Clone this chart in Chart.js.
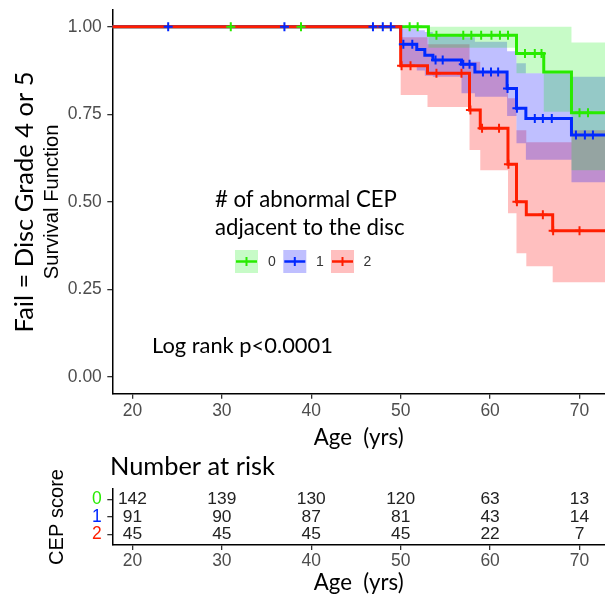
<!DOCTYPE html>
<html><head><meta charset="utf-8">
<script src="https://cdn.jsdelivr.net/npm/chart.js@4.4.1/dist/chart.umd.min.js"></script>
<style>
html,body{margin:0;padding:0;background:#fff;width:605px;height:604px;overflow:hidden}
canvas{position:absolute;left:0}
</style></head><body>
<canvas id="c1" width="605" height="470" style="top:0"></canvas>
<canvas id="c2" width="605" height="154" style="top:450px"></canvas>
<script>
// ---------------- data ----------------
const xTicks = [20, 30, 40, 50, 60, 70];
const yTicks = [0, 0.25, 0.5, 0.75, 1];
const groupLabels = ['0', '1', '2'];

const greenT   = [17.75, 53.1, 62.95, 66.0, 69.1, 72.85];
const greenS   = [1, 0.976, 0.924, 0.871, 0.754, 0.754];
const greenHi  = [1, 1, 1, 1, 0.955, 0.955];
const greenLo  = [1, 0.94, 0.867, 0.757, 0.59, 0.59];
const greenCens = [31.0, 38.85, 51.0, 51.9, 54.0, 57.0, 57.9, 59.0, 60.15, 61.1, 62.0, 63.9, 65.0, 65.75, 70.0, 70.95];

const blueT   = [17.75, 50.0, 51.8, 52.7, 53.6, 56.8, 58.3, 61.9, 62.95, 64.0, 69.1, 72.85];
const blueS   = [1, 0.95, 0.935, 0.919, 0.905, 0.893, 0.871, 0.824, 0.767, 0.738, 0.691, 0.691];
const blueHi  = [1, 0.995, 0.99, 0.985, 0.975, 0.97, 0.957, 0.93, 0.896, 0.867, 0.857, 0.857];
const blueLo  = [1, 0.89, 0.875, 0.86, 0.857, 0.81, 0.80, 0.745, 0.667, 0.62, 0.556, 0.556];
const blueCens = [24.0, 37.0, 46.9, 48.0, 48.9, 50.3, 51.3, 53.9, 54.7, 57.0, 57.7, 59.2, 60.1, 60.9, 61.95, 63.0, 65.0, 65.9, 66.9, 69.6, 70.6, 71.5];

const redT   = [17.75, 50.0, 53.0, 57.7, 58.9, 62.0, 62.95, 64.05, 67.0, 69.1, 72.85];
const redS   = [1, 0.889, 0.867, 0.762, 0.710, 0.607, 0.50, 0.463, 0.417, 0.417, 0.417];
const redHi  = [1, 0.97, 0.95, 0.90, 0.867, 0.796, 0.704, 0.67, 0.67, 0.704, 0.704];
const redLo  = [1, 0.805, 0.771, 0.648, 0.59, 0.467, 0.353, 0.316, 0.27, 0.27, 0.27];
const redCens = [50.1, 51.1, 54.0, 56.8, 57.8, 59.1, 61.0, 62.05, 63.0, 65.9, 67.05, 70.0];

const riskTimes = [20, 30, 40, 50, 60, 70];
const risk0 = [142, 139, 130, 120, 63, 13];
const risk1 = [91, 90, 87, 81, 43, 14];
const risk2 = [45, 45, 45, 45, 22, 7];

// ---------------- styling ----------------
const X_MIN = 17.75, X_MAX = 72.85, Y_MIN = -0.0486, Y_MAX = 1.048;
const LS = '"Liberation Sans", Arial, sans-serif';
const LATO = 'Lato, sans-serif';
const mctx = document.createElement('canvas').getContext('2d');
function fit(text, family, target, weight) {
  mctx.font = (weight || 'normal') + ' 100px ' + family;
  return 100 * target / mctx.measureText(text).width;
}
const tickSize   = fit('1.00', LS, 34);
const survSize   = fit('Survival Function', LS, 155);
const failSize   = fit('Fail = Disc Grade 4 or 5', LATO, 261);
const ageSize    = fit('Age  (yrs)', LATO, 90);
const logSize    = fit('Log rank p<0.0001', LATO, 181);
const legTSize   = fit('# of abnormal CEP', LATO, 182);
const nrSize     = fit('Number at risk', LATO, 165);
const riskSize   = fit('142', LS, 29);
const cepSize    = fit('CEP score', LS, 96);

const COL = {
  g: 'rgb(40,235,0)', b: 'rgb(0,40,255)', r: 'rgb(255,30,0)',
  gf: 'rgba(0,235,0,0.22)', bf: 'rgba(0,0,255,0.25)', rf: 'rgba(255,0,0,0.25)'
};

function pts(T, S) { return T.map((t, i) => ({x: t, y: S[i]})); }
function survAt(T, S, t) { let v = S[0]; for (let i = 0; i < T.length; i++) if (T[i] <= t) v = S[i]; return v; }
function cens(C, T, S) { return C.map(t => ({x: t, y: survAt(T, S, t)})); }

function band(hi, lo, T, col) {
  return [
    {data: pts(T, hi), stepped: 'before', borderWidth: 0, pointRadius: 0, fill: '+1', backgroundColor: col, order: 20},
    {data: pts(T, lo), stepped: 'before', borderWidth: 0, pointRadius: 0, fill: false, order: 20}
  ];
}
function curve(T, S, col, ord) {
  return {data: pts(T, S), stepped: 'before', borderColor: col, borderWidth: 3, pointRadius: 0, fill: false, order: ord};
}
function marks(C, T, S, col, ord) {
  return {data: cens(C, T, S), showLine: false, pointStyle: 'cross', pointRadius: 4.5, pointBorderWidth: 2,
          pointBorderColor: col, pointBackgroundColor: col, borderColor: col, fill: false, order: ord};
}

const datasets = [
  ...band(greenHi, greenLo, greenT, COL.gf),
  ...band(blueHi, blueLo, blueT, COL.bf),
  ...band(redHi, redLo, redT, COL.rf),
  curve(greenT, greenS, COL.g, 9),
  curve(blueT, blueS, COL.b, 8),
  curve(redT, redS, COL.r, 7),
  marks(greenCens, greenT, greenS, COL.g, 3),
  marks(blueCens, blueT, blueS, COL.b, 2),
  marks(redCens, redT, redS, COL.r, 1)
];

const annot = {
  id: 'annot',
  afterDraw(chart) {
    const ctx = chart.ctx;
    ctx.save();
    ctx.fillStyle = '#000';
    ctx.font = failSize + 'px ' + LATO;
    ctx.textAlign = 'center'; ctx.textBaseline = 'middle';
    ctx.translate(25, 202); ctx.rotate(-Math.PI / 2);
    ctx.fillText('Fail = Disc Grade 4 or 5', 0, 0);
    ctx.restore();
    ctx.save();
    ctx.fillStyle = '#000';
    ctx.font = logSize + 'px ' + LATO;
    ctx.textAlign = 'left'; ctx.textBaseline = 'middle';
    ctx.fillText('Log rank p<0.0001', 152, 346);
    ctx.font = legTSize + 'px ' + LATO;
    ctx.fillText('# of abnormal CEP', 215, 200);
    ctx.fillText('adjacent to the disc', 215, 228);
    const keys = [[235, COL.gf, COL.g, 268], [283.3, COL.bf, COL.b, 316], [331, COL.rf, COL.r, 363.5]];
    ctx.font = '14px ' + LS;
    keys.forEach((k, i) => {
      const [x0, fc, lc, tx] = k;
      ctx.fillStyle = '#fff'; ctx.fillRect(x0, 250, 23, 23);
      ctx.fillStyle = fc; ctx.fillRect(x0, 250, 23, 23);
      ctx.strokeStyle = lc; ctx.lineWidth = 2.5;
      ctx.beginPath(); ctx.moveTo(x0 + 1, 261.5); ctx.lineTo(x0 + 22, 261.5); ctx.stroke();
      ctx.lineWidth = 2;
      ctx.beginPath(); ctx.moveTo(x0 + 11.5, 257); ctx.lineTo(x0 + 11.5, 266); ctx.stroke();
      ctx.fillStyle = '#333'; ctx.textAlign = 'left';
      ctx.fillText(groupLabels[i], tx, 262);
    });
    ctx.restore();
  }
};

new Chart(document.getElementById('c1'), {
  type: 'line',
  data: {datasets},
  options: {
    responsive: false, animation: false, devicePixelRatio: 1,
    layout: {autoPadding: false, padding: {top: 10, left: 0, right: 0, bottom: 0}},
    plugins: {legend: {display: false}, tooltip: {enabled: false}},
    scales: {
      x: {
        type: 'linear', min: X_MIN, max: X_MAX,
        afterBuildTicks: s => { s.ticks = xTicks.map(v => ({value: v})); },
        afterFit: s => { s.height = 76.3; s.paddingLeft = 0; s.paddingRight = 0; },
        ticks: {font: {family: LS, size: tickSize}, color: '#4d4d4d', padding: 2, maxRotation: 0, autoSkip: false, callback: v => String(v)},
        grid: {drawOnChartArea: false, drawTicks: true, tickLength: 5, color: '#333', lineWidth: 1.3},
        border: {display: true, color: '#000', width: 1.5},
        title: {display: true, text: 'Age  (yrs)', color: '#000', font: {family: LATO, size: ageSize}, padding: {top: 0, bottom: 470 - 438 - ageSize * 0.6}}
      },
      y: {
        type: 'linear', min: Y_MIN, max: Y_MAX,
        afterBuildTicks: s => { s.ticks = yTicks.map(v => ({value: v})); },
        afterFit: s => { s.width = 112.3; s.paddingTop = 0; s.paddingBottom = 0; },
        ticks: {font: {family: LS, size: tickSize}, color: '#4d4d4d', padding: 5.5, autoSkip: false, callback: v => v.toFixed(2)},
        grid: {drawOnChartArea: false, drawTicks: true, tickLength: 5, color: '#333', lineWidth: 1.3},
        border: {display: true, color: '#000', width: 1.5},
        title: {display: true, text: 'Survival Function', color: '#000', font: {family: LS, size: survSize}, padding: {top: 52 - survSize * 0.6, bottom: 0}}
      }
    }
  },
  plugins: [annot]
});

// ---------------- risk table ----------------
const riskRows = [risk0, risk1, risk2];
const rowColors = [COL.g, COL.b, COL.r];
const riskDatasets = riskRows.map((r, i) => ({
  data: riskTimes.map(t => ({x: t, y: i})), showLine: false, pointRadius: 0, counts: r
}));
const riskText = {
  id: 'riskText',
  afterDatasetsDraw(chart) {
    const ctx = chart.ctx;
    ctx.save();
    ctx.font = riskSize + 'px ' + LS;
    ctx.fillStyle = '#222'; ctx.textAlign = 'center'; ctx.textBaseline = 'middle';
    chart.data.datasets.forEach((ds, i) => {
      chart.getDatasetMeta(i).data.forEach((p, j) => ctx.fillText(String(ds.counts[j]), p.x, p.y));
    });
    ctx.fillStyle = '#000'; ctx.textAlign = 'left';
    ctx.font = nrSize + 'px ' + LATO;
    ctx.fillText('Number at risk', 110, 17);
    ctx.restore();
  }
};

new Chart(document.getElementById('c2'), {
  type: 'line',
  data: {datasets: riskDatasets},
  options: {
    responsive: false, animation: false, devicePixelRatio: 1,
    layout: {autoPadding: false, padding: {top: 39, left: 0, right: 0, bottom: 0}},
    plugins: {legend: {display: false}, tooltip: {enabled: false}},
    scales: {
      x: {
        type: 'linear', min: X_MIN, max: X_MAX,
        afterBuildTicks: s => { s.ticks = xTicks.map(v => ({value: v})); },
        afterFit: s => { s.height = 59; s.paddingLeft = 0; s.paddingRight = 0; },
        ticks: {font: {family: LS, size: tickSize}, color: '#4d4d4d', padding: 1, maxRotation: 0, autoSkip: false, callback: v => String(v)},
        grid: {drawOnChartArea: false, drawTicks: true, tickLength: 5, color: '#333', lineWidth: 1.3},
        border: {display: true, color: '#000', width: 1.5},
        title: {display: true, text: 'Age  (yrs)', color: '#000', font: {family: LATO, size: ageSize}, padding: {top: 0, bottom: 154 - 133 - ageSize * 0.6}}
      },
      y: {
        type: 'linear', min: -0.6, max: 2.6, reverse: true,
        afterBuildTicks: s => { s.ticks = [0, 1, 2].map(v => ({value: v})); },
        afterFit: s => { s.width = 112.3; s.paddingTop = 0; s.paddingBottom = 0; },
        ticks: {font: {family: LS, size: tickSize}, padding: 5.5, autoSkip: false,
                color: c => rowColors[c.tick ? c.tick.value : c.index] || '#333',
                callback: v => groupLabels[v]},
        grid: {drawOnChartArea: false, drawTicks: true, tickLength: 5, color: '#333', lineWidth: 1.3},
        border: {display: true, color: '#000', width: 1.5},
        title: {display: true, text: 'CEP score', color: '#000', font: {family: LS, size: cepSize}, padding: {top: 57 - cepSize * 0.6, bottom: 0}}
      }
    }
  },
  plugins: [riskText]
});
</script>
</body></html>
